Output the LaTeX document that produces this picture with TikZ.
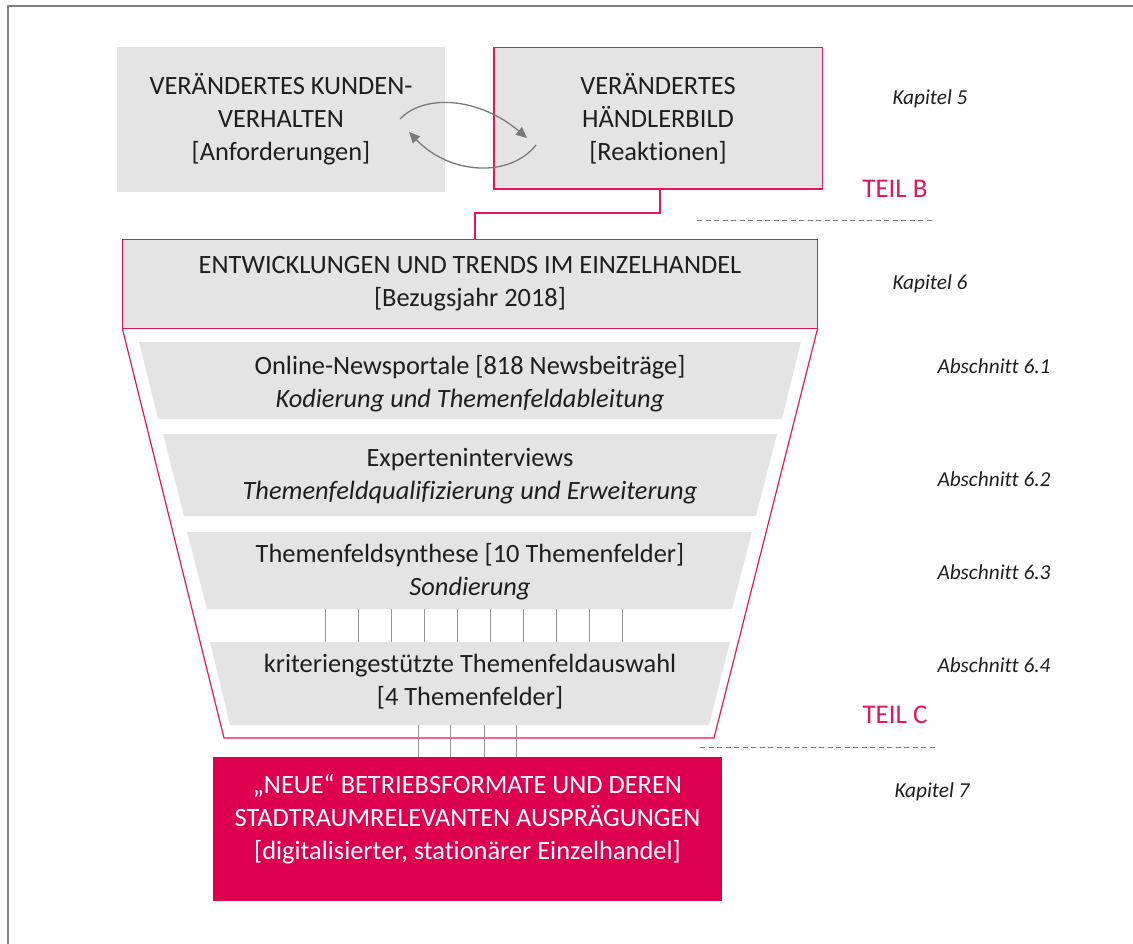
\documentclass[tikz,border=0pt]{standalone}
\usepackage{fontspec}
\setmainfont{Carlito}[Ligatures=NoCommon]
\usetikzlibrary{arrows.meta}
\definecolor{pinkline}{HTML}{E2165E}
\definecolor{crimson}{HTML}{DC004E}
\definecolor{boxgray}{HTML}{E4E4E4}
\definecolor{framegray}{HTML}{808080}
\definecolor{arrgray}{HTML}{7A7A7A}
\definecolor{txt}{HTML}{1E1E1E}
\begin{document}
\begin{tikzpicture}[x=1pt,y=-1pt,
  maintext/.style={font=\fontsize{26.4}{33}\selectfont, text=txt, align=center, inner sep=0pt},
  sidetext/.style={font=\fontsize{21.3}{24}\selectfont\itshape, text=txt, inner sep=0pt},
  teiltext/.style={font=\fontsize{27}{30}\selectfont, text=pinkline, inner sep=0pt},
  graybox/.style={fill=boxgray, draw=none},
  pinkframe/.style={draw=pinkline, line width=1.4pt},
  layer/.style={fill=boxgray, draw=none},
  pinkconn/.style={draw=pinkline, line width=1.4pt},
  thinline/.style={draw=arrgray!80, line width=0.9pt},
  dashline/.style={draw=arrgray, line width=1pt, dash pattern=on 5pt off 3.5pt},
  arr/.style={draw=arrgray, line width=1.3pt, -{Triangle[length=11pt,width=10pt]}}
]
\useasboundingbox (0,0) rectangle (1133,944);
% frame
\draw[framegray, line width=1.5pt] (8,944) -- (8,6) -- (1133,6);

% top boxes
\node[graybox, minimum width=328, minimum height=145, maintext] (kunden) at (281,119.5)
  {VERÄNDERTES KUNDEN-\\VERHALTEN\\{[Anforderungen]}};
% second box: pink frame made of fills
\fill[pinkline] (493,47) rectangle (823,190);
\fill[boxgray] (494.5,48.5) rectangle (821.5,188.5);
\node[maintext, minimum width=330, minimum height=143] (haendler) at (658,118.5)
  {VERÄNDERTES\\HÄNDLERBILD\\{[Reaktionen]}};

% exchange arrows
\coordinate (a1s) at (400,119);
\coordinate (a1e) at (527,138);
\coordinate (a2s) at (536,145);
\coordinate (a2e) at (409,132);
\draw[arr] (a1s) .. controls (425,93) and (480,98) .. (a1e);
\draw[arr] (a2s) .. controls (510,178) and (450,175) .. (a2e);

% Teil B
\node[teiltext] (teilb) at (895,189) {TEIL B};
\coordinate (db1) at (697,221);
\coordinate (db2) at (932,221);
\draw[dashline] (db1) -- (db2);

% main box
\node[graybox, maintext, minimum width=695, minimum height=88] (trends) at (470,284)
  {ENTWICKLUNGEN UND TRENDS IM EINZELHANDEL\\{[Bezugsjahr 2018]}};
\draw[pinkframe] (trends.north west) rectangle (trends.south east);
\draw[pinkconn] ([xshift=2pt]haendler.south) |- (475,213) -- (475,240);

% funnel outline
\coordinate (fl) at (224,738);
\coordinate (fr) at (714,738);
\draw[pinkline, line width=1.2pt] (trends.south west) -- (fl) -- (fr) -- (trends.south east);

% layers
\fill[layer] (139,342) -- (801,342) -- (782,419) -- (158,419) -- cycle;
\fill[layer] (163,434) -- (777,434) -- (756,516) -- (184,516) -- cycle;
\fill[layer] (187,532) -- (752,532) -- (732,609) -- (207,609) -- cycle;
\fill[layer] (210,642) -- (730,642) -- (709,725) -- (230,725) -- cycle;

\node[maintext] (l1) at (470,384) {Online-Newsportale [818 Newsbeiträge]\\\textit{Kodierung und Themenfeldableitung}};
\node[maintext] (l2) at (470,476) {Experteninterviews\\\textit{Themenfeldqualifizierung und Erweiterung}};
\node[maintext] (l3) at (470,572) {Themenfeldsynthese [10 Themenfelder]\\\textit{Sondierung}};
\node[maintext] (l4) at (470,682) {kriteriengestützte Themenfeldauswahl\\{[4 Themenfelder]}};

\coordinate (l3b) at (470,609);
\coordinate (l4t) at (470,642);
\coordinate (l4b) at (470,725);
\foreach \i in {0,...,9}{
  \draw[thinline] ([xshift={-145+33.1*\i}]l3b) -- ([xshift={-145+33.1*\i}]l4t);
}

% bottom box
\node[fill=crimson, minimum width=509, minimum height=144, inner sep=0pt] (neue) at (467.5,829) {};
\node[maintext, text=white] (neuetext) at (467.5,819)
  {„NEUE“ BETRIEBSFORMATE UND DEREN\\STADTRAUMRELEVANTEN AUSPRÄGUNGEN\\{[digitalisierter, stationärer Einzelhandel]}};
\foreach \d in {-52,-20,14,46}{
  \draw[thinline] ([xshift=\d]l4b) -- ([xshift=\d]l4b |- neue.north);
}

% Teil C
\node[teiltext] (teilc) at (895,715) {TEIL C};
\coordinate (dc1) at (700,747);
\coordinate (dc2) at (935,747);
\draw[dashline] (dc1) -- (dc2);

% side labels
\node[sidetext] (k5) at (930,99) {Kapitel 5};
\node[sidetext] (k6) at (930,284) {Kapitel 6};
\node[sidetext] (a61) at (994,366) {Abschnitt 6.1};
\node[sidetext] (a62) at (994,479) {Abschnitt 6.2};
\node[sidetext] (a63) at (994,572) {Abschnitt 6.3};
\node[sidetext] (a64) at (994,665) {Abschnitt 6.4};
\node[sidetext] (k7) at (932,792) {Kapitel 7};
\end{tikzpicture}
\end{document}
